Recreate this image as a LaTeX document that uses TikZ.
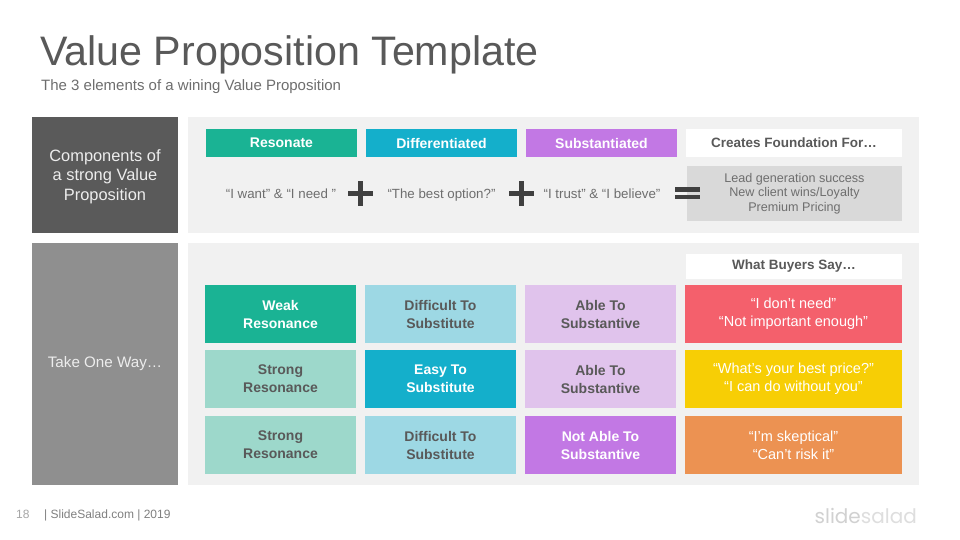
\documentclass[tikz,border=0pt]{standalone}
\usepackage{fontspec}
\setmainfont{Liberation Sans}
\newfontfamily\logofont{Poppins}
\definecolor{tealD}{HTML}{1AB394}
\definecolor{tealL}{HTML}{9DD8CB}
\definecolor{blueD}{HTML}{14AFCB}
\definecolor{blueL}{HTML}{9DD8E4}
\definecolor{purpD}{HTML}{C278E4}
\definecolor{purpL}{HTML}{E0C3EC}
\definecolor{redB}{HTML}{F4606C}
\definecolor{yelB}{HTML}{F7CE05}
\definecolor{oraB}{HTML}{EC9252}
\definecolor{panel}{HTML}{F1F1F1}
\definecolor{inkD}{HTML}{595959}
\definecolor{inkM}{HTML}{6E6E6E}
\definecolor{symb}{HTML}{404040}
\definecolor{sideD}{HTML}{5A5A5A}
\definecolor{sideL}{HTML}{8F8F8F}
\tikzset{
  x=1pt,y=-1pt,
  box/.style={anchor=north west,inner sep=0pt,outer sep=0pt,align=center,font=\fontsize{#1}{#1}\selectfont},
  box/.default=15,
  cell/.style={anchor=north west,inner sep=0pt,outer sep=0pt,align=center,minimum width=151pt,minimum height=58pt,font=\fontsize{14}{18}\selectfont\bfseries},
  light/.style={cell,text=inkD},
  dark/.style={cell,text=white},
  say/.style={anchor=north west,inner sep=0pt,outer sep=0pt,align=center,minimum width=217pt,minimum height=58pt,text=white,font=\fontsize{14.500}{18}\selectfont},
  head/.style={anchor=north west,inner sep=0pt,outer sep=0pt,align=center,minimum width=151pt,minimum height=28pt,text=white,font=\fontsize{14}{18}\selectfont\bfseries},
  whitehead/.style={anchor=north west,inner sep=0pt,outer sep=0pt,fill=white,text=inkD,minimum width=216pt,font=\fontsize{13.500}{18}\selectfont\bfseries},
  quote/.style={anchor=base,inner sep=0pt,text=inkM,font=\fontsize{13.300}{15}\selectfont},
  symbol/.style={fill=symb,draw=none}
}
\begin{document}
\begin{tikzpicture}
\useasboundingbox (0,0) rectangle (960,540);
\fill[white] (0,0) rectangle (960,540);
\node[anchor=base west,inner sep=0pt,text=inkD,font=\fontsize{41.200}{42}\selectfont] (title) at (40,66) {Value Proposition Template};
\node[anchor=base west,inner sep=0pt,text=inkM,font=\fontsize{15}{16}\selectfont] (subtitle) at (41,91) {The 3 elements of a wining Value Proposition};

\node[box,fill=sideD,minimum width=146pt,minimum height=116pt] (lefttop) at (32,117) {};
\node[align=center,inner sep=0pt,text=white!93!black,font=\fontsize{16.400}{19.500}\selectfont] (lefttoptext) at (105,176.500) {Components of\\a strong Value\\Proposition};
\node[box,fill=sideL,minimum width=146pt,minimum height=242pt] (leftbot) at (32,243) {};
\node[inner sep=0pt,text=white!93!black,font=\fontsize{15.200}{19.500}\selectfont] (leftbottext) at (105,364) {Take One Way…};
\node[box,fill=panel,minimum width=731pt,minimum height=116pt] (paneltop) at (188,117) {};
\node[box,fill=panel,minimum width=731pt,minimum height=242pt] (panelbot) at (188,243) {};

\node[head,fill=tealD] (hres) at (206,129) {Resonate};
\node[head,fill=blueD] (hdif) at (366,129) {Differentiated};
\node[head,fill=purpD] (hsub) at (526,129) {Substantiated};
\node[whitehead,minimum height=28pt] (hcre) at (686,129) {Creates Foundation For…};

\node[quote] (q1) at (281,198) {“I want” \& “I need ”};
\node[quote] (q2) at (441.500,198) {“The best option?”};
\node[quote] (q3) at (602,198) {“I trust” \& “I believe”};

\node[box,fill=black!15,minimum width=215pt,minimum height=55pt,text=inkM,font=\fontsize{12.600}{14.400}\selectfont] (foot) at (687,166) {Lead generation success\\New client wins/Loyalty\\Premium Pricing};

\fill[symbol] (348,191) rectangle (373,195.500);
\fill[symbol] (358.200,181) rectangle (362.800,205.500);
\fill[symbol] (509,191) rectangle (534,195.500);
\fill[symbol] (519,181) rectangle (523.600,205.500);
\fill[symbol] (675,187) rectangle (699.500,191.500);
\fill[symbol] (675,194.500) rectangle (699.500,199);

\node[whitehead,minimum height=25pt] (hbuy) at (686,254) {What Buyers Say…};

\node[dark,fill=tealD] (a1) at (205,285) {Weak\\Resonance};
\node[light,fill=blueL] (a2) at (365,285) {Difficult To\\Substitute};
\node[light,fill=purpL] (a3) at (525,285) {Able To\\Substantive};
\node[say,fill=redB] (a4) at (685,285) {“I don’t need”\\“Not important enough”};

\node[light,fill=tealL] (b1) at (205,350) {Strong\\Resonance};
\node[dark,fill=blueD] (b2) at (365,350) {Easy To\\Substitute};
\node[light,fill=purpL] (b3) at (525,350) {Able To\\Substantive};
\node[say,fill=yelB] (b4) at (685,350) {“What’s your best price?”\\“I can do without you”};

\node[light,fill=tealL] (c1) at (205,416) {Strong\\Resonance};
\node[light,fill=blueL] (c2) at (365,416) {Difficult To\\Substitute};
\node[dark,fill=purpD] (c3) at (525,416) {Not Able To\\Substantive};
\node[say,fill=oraB] (c4) at (685,416) {“I’m skeptical”\\“Can’t risk it”};

\node[anchor=base west,inner sep=0pt,text=black!35,font=\fontsize{12}{12}\selectfont] (pg) at (16,518) {18};
\node[anchor=base west,inner sep=0pt,text=black!50,font=\fontsize{12}{12}\selectfont] (ft) at (44,518) {| SlideSalad.com | 2019};
\node[anchor=base east,inner sep=0pt,font=\logofont\fontsize{20}{22}\selectfont] (logo) at (917,523) {\textcolor{black!18}{slide}\textcolor{black!13}{salad}};
\end{tikzpicture}
\end{document}
